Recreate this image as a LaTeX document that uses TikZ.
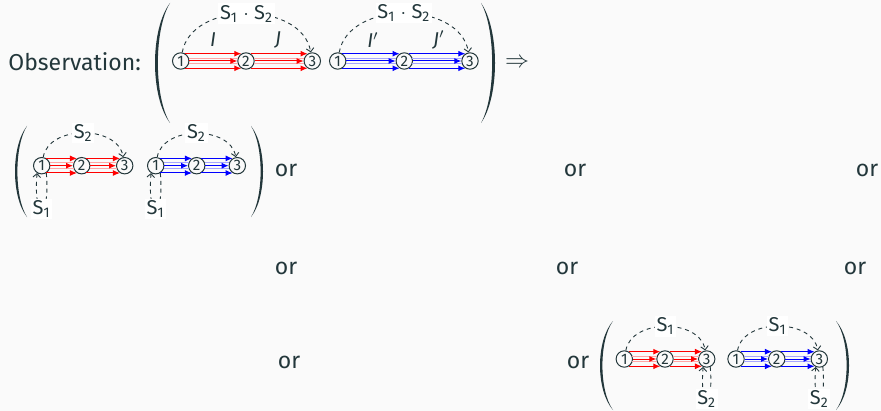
\documentclass[tikz,border=0pt]{standalone}
\usepackage{fontspec}
\setmainfont{Fira Sans}
\usetikzlibrary{arrows.meta}
\definecolor{txt}{HTML}{23373B}
\definecolor{bgc}{HTML}{FAFAFA}
\tikzset{
  vtx/.style={circle, draw=txt, line width=0.5pt, minimum size=8.2pt, inner sep=0pt,
    font=\fontsize{7.6}{8}\selectfont, text=txt},
  redarr/.style={draw=red, line width=0.5pt, -{Latex[length=3.5pt,width=3pt]}},
  bluearr/.style={draw=blue, line width=0.5pt, -{Latex[length=3.5pt,width=3pt]}},
  redlite/.style={draw=red!35, line width=0.5pt},
  bluelite/.style={draw=blue!35, line width=0.5pt},
  dsh/.style={draw=txt, line width=0.45pt, dash pattern=on 2pt off 1.9pt,
    -{Straight Barb[length=1.8pt,width=3.8pt]}},
  lbl/.style={fill=white, inner sep=0.8pt, text=txt, font=\fontsize{10}{11}\selectfont},
  edgelbl/.style={text=txt, inner sep=0pt, font=\fontsize{10}{11}\selectfont},
  bigtxt/.style={text=txt, inner sep=0pt, font=\fontsize{11.5}{14}\selectfont},
  arc/.style={out=80,in=100,looseness=1.05},
}
\newcommand\mybundle[3]{%
  \draw[#3arr] (#1.57) -- (#2.123);
  \draw[#3lite] (#1.20) -- (#2.160);
  \draw[#3lite] (#1.-20) -- (#2.-160);
  \draw[#3arr] (#1) -- (#2);
  \draw[#3arr] (#1.-57) -- (#2.-123);}
% #1 end x, #2 bulge x, #3 top y, #4 bottom y, #5 thickness offset
\newcommand\myparen[5]{%
  \fill[txt] (#1,#3) .. controls ({#1+(#2-#1)*4/3},{#3+(#4-#3)*0.22}) and ({#1+(#2-#1)*4/3},{#4-(#4-#3)*0.22}) .. (#1,#4)
    .. controls ({#1+(#2-#1)*4/3+#5},{#4-(#4-#3)*0.22}) and ({#1+(#2-#1)*4/3+#5},{#3+(#4-#3)*0.22}) .. cycle;}
\begin{document}
\begin{tikzpicture}[x=0.5pt,y=-0.5pt]
\useasboundingbox (0,0) rectangle (881,411);
\fill[bgc] (0,0) rectangle (881,411);

% ---------- Row 1 ----------
\node[bigtxt, anchor=west] (obs) at (8,62) {Observation:};
\myparen{170}{155}{3}{123}{3.8}
\myparen{481}{495}{3}{123}{-3.8}
\node[bigtxt] (impl) at (517,63) {$\Rightarrow$};

\node[vtx] (a1) at (180.7,61) {1};
\node[vtx] (a2) at (246,61) {2};
\node[vtx] (a3) at (312.3,61) {3};
\node[vtx] (b1) at (337.7,61) {1};
\node[vtx] (b2) at (404.3,61) {2};
\node[vtx] (b3) at (470,61) {3};
\mybundle{a1}{a2}{red}
\mybundle{a2}{a3}{red}
\mybundle{b1}{b2}{blue}
\mybundle{b2}{b3}{blue}
\node[edgelbl] (lI) at (213,40) {\textit{I}};
\node[edgelbl] (lJ) at (278,40) {\textit{J}};
\node[edgelbl] (lIp) at (373,40) {\textit{I}$'$};
\node[edgelbl] (lJp) at (439,40) {\textit{J}$'$};
\draw[dsh] (a1) to[arc] node[lbl] (s12a) {S\textsubscript{1} $\cdot$ S\textsubscript{2}} (a3);
\draw[dsh] (b1) to[arc] node[lbl] (s12b) {S\textsubscript{1} $\cdot$ S\textsubscript{2}} (b3);

% ---------- Row 2 ----------
\myparen{27}{15}{126}{217}{3.2}
\myparen{251}{263}{126}{217}{-3.2}
\node[vtx] (c1) at (41.7,165.7) {1};
\node[vtx] (c2) at (81.7,165.7) {2};
\node[vtx] (c3) at (124.7,165.7) {3};
\node[vtx] (d1) at (155.7,165.7) {1};
\node[vtx] (d2) at (196.7,165.7) {2};
\node[vtx] (d3) at (237.3,165.7) {3};
\mybundle{c1}{c2}{red}
\mybundle{c2}{c3}{red}
\mybundle{d1}{d2}{blue}
\mybundle{d2}{d3}{blue}
\draw[dsh] (c1) to[arc] node[lbl] (s2c) {S\textsubscript{2}} (c3);
\draw[dsh] (d1) to[arc] node[lbl] (s2d) {S\textsubscript{2}} (d3);
\draw[dsh] (c1.-58) to[out=-85,in=-95,distance=24pt] node[lbl] (s1c) {S\textsubscript{1}} (c1.-122);
\draw[dsh] (d1.-58) to[out=-85,in=-95,distance=24pt] node[lbl] (s1d) {S\textsubscript{1}} (d1.-122);

% ---------- Row 3 ----------
\myparen{613}{600}{321}{410}{3.2}
\myparen{836}{849}{321}{410}{-3.2}
\node[vtx] (e1) at (624.3,359) {1};
\node[vtx] (e2) at (665,359) {2};
\node[vtx] (e3) at (706.7,359) {3};
\node[vtx] (f1) at (736,359) {1};
\node[vtx] (f2) at (776.7,359) {2};
\node[vtx] (f3) at (819.3,359) {3};
\mybundle{e1}{e2}{red}
\mybundle{e2}{e3}{red}
\mybundle{f1}{f2}{blue}
\mybundle{f2}{f3}{blue}
\draw[dsh] (e1) to[arc] node[lbl] (s1e) {S\textsubscript{1}} (e3);
\draw[dsh] (f1) to[arc] node[lbl] (s1f) {S\textsubscript{1}} (f3);
\draw[dsh] (e3.-66) to[out=-85,in=-95,distance=21.5pt] node[lbl] (s2e) {S\textsubscript{2}} (e3.-114);
\draw[dsh] (f3.-66) to[out=-85,in=-95,distance=21.5pt] node[lbl] (s2f) {S\textsubscript{2}} (f3.-114);

% ---------- "or" ----------
\node[bigtxt] (or1) at (286,170) {or};
\node[bigtxt] (or2) at (575,170) {or};
\node[bigtxt] (or3) at (867,170) {or};
\node[bigtxt] (or4) at (286,268) {or};
\node[bigtxt] (or5) at (567,268) {or};
\node[bigtxt] (or6) at (855,268) {or};
\node[bigtxt] (or7) at (289,362) {or};
\node[bigtxt] (or8) at (578,362) {or};
\end{tikzpicture}
\end{document}
